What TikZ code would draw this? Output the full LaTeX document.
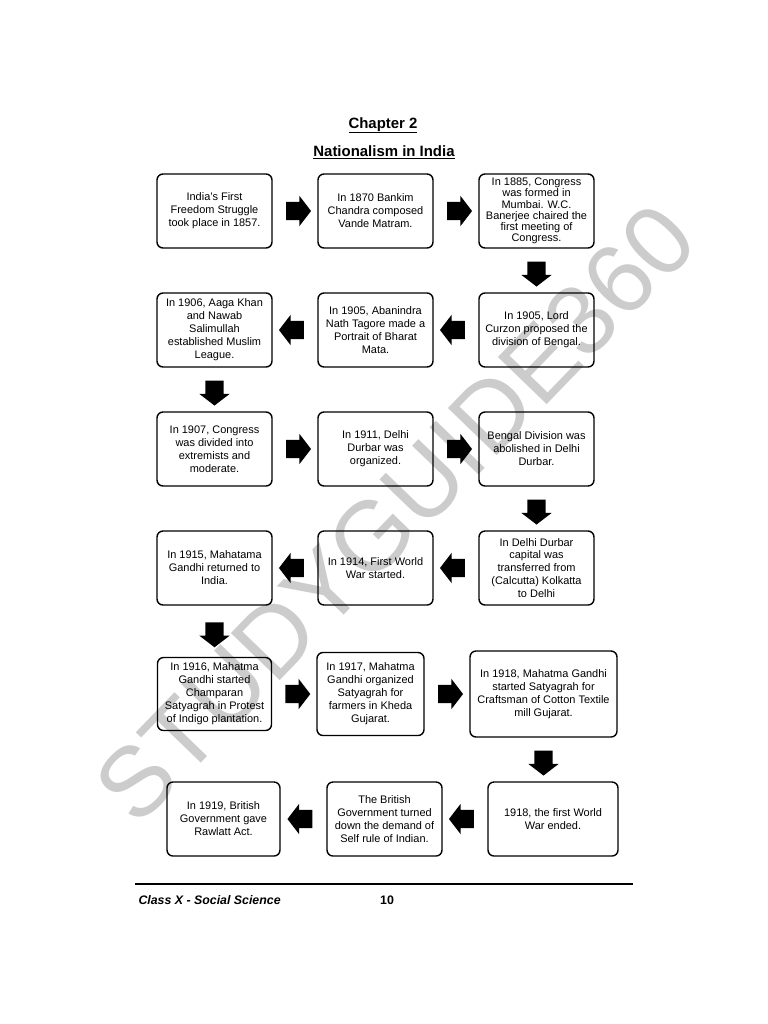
\documentclass[tikz,border=0pt]{standalone}
\usepackage{fontspec}
\setmainfont{Liberation Sans}
\usetikzlibrary{positioning,calc,shapes.arrows}

\begin{document}
\begin{tikzpicture}[x=1bp,y=-1bp,node distance=119bp and 161bp,on grid,
   event/.style={draw,rounded corners=6bp,line width=1.4bp,minimum width=115bp,
      minimum height=74bp,inner sep=2bp,align=center,font=\fontsize{11}{13}\selectfont},
   blockarrow/.style={single arrow,fill=black,draw=none,inner sep=0pt,minimum height=25bp,
      single arrow head extend=6bp,single arrow tip angle=105},
   arrowright/.style={blockarrow},
   arrowleft/.style={blockarrow,rotate=180},
   arrowdown/.style={blockarrow,rotate=-90}]
   \useasboundingbox[fill=white] (0,0) rectangle (768,1024);
   \node[text=black!20,font=\fontsize{99}{99}\selectfont,rotate=46] (mark) at (395,513) {STUDYGUIDE360};

   \node[anchor=base,font=\bfseries\fontsize{15}{18}\selectfont] (chap) at (383,128) {\underline{Chapter 2}};
   \node[anchor=base,font=\bfseries\fontsize{15}{18}\selectfont] (title) at (384,156.5) {\underline{Nationalism in India}};

   \node[event] (e1) at (214.5,211) {India’s First\\Freedom Struggle\\took place in 1857.};
   \node[event] (e2) [right=of e1] {In 1870 Bankim\\Chandra composed\\Vande Matram.};
   \node[event,font=\fontsize{11}{11.3}\selectfont] (e3) [right=of e2] {In 1885, Congress\\was formed in\\Mumbai. W.C.\\Banerjee chaired the\\first meeting of\\Congress.};
   \node[event] (e4) [below=of e3] {In 1905, Lord\\Curzon proposed the\\division of Bengal.};
   \node[event] (e5) [left=of e4] {In 1905, Abanindra\\Nath Tagore made a\\Portrait of Bharat\\Mata.};
   \node[event] (e6) [left=of e5] {In 1906, Aaga Khan\\and Nawab\\Salimullah\\established Muslim\\League.};
   \node[event] (e7) [below=of e6] {In 1907, Congress\\was divided into\\extremists and\\moderate.};
   \node[event] (e8) [right=of e7] {In 1911, Delhi\\Durbar was\\organized.};
   \node[event] (e9) [right=of e8] {Bengal Division was\\abolished in Delhi\\Durbar.};
   \node[event] (e10) [below=of e9] {In Delhi Durbar\\capital was\\transferred from\\(Calcutta) Kolkatta\\to Delhi};
   \node[event] (e11) [left=of e10] {In 1914, First World\\War started.};
   \node[event] (e12) [left=of e11] {In 1915, Mahatama\\Gandhi returned to\\India.};
   \node[event,minimum width=114bp,minimum height=73bp] (e13) [below=126bp of e12] {In 1916, Mahatma\\Gandhi started\\Champaran\\Satyagrah in Protest\\of Indigo plantation.};
   \node[event,minimum width=107bp,minimum height=83bp] (e14) [right=156bp of e13] {In 1917, Mahatma\\Gandhi organized\\Satyagrah for\\farmers in Kheda\\Gujarat.};
   \node[event,minimum width=147bp,minimum height=86bp] (e15) [right=173bp of e14] {In 1918, Mahatma Gandhi\\started Satyagrah for\\Craftsman of Cotton Textile\\mill Gujarat.};
   \node[event,minimum width=130bp] (e16) [below=125bp of e15,xshift=9.5bp] {1918, the first World\\War ended.};
   \node[event] (e17) [left=168.5bp of e16] {The British\\Government turned\\down the demand of\\Self rule of Indian.};
   \node[event,minimum width=113bp] (e18) [left=161bp of e17] {In 1919, British\\Government gave\\Rawlatt Act.};

   \node[arrowright] (a1) at ($(e1.east)!0.5!(e2.west)$) {\rule{0pt}{18bp}};
   \node[arrowright] (a2) at ($(e2.east)!0.5!(e3.west)$) {\rule{0pt}{18bp}};
   \node[arrowdown] (a3) at ($(e3.south)!0.5!(e3.south |- e4.north)$) {\rule{0pt}{18bp}};
   \node[arrowleft] (a4) at ($(e4.west)!0.5!(e5.east)$) {\rule{0pt}{18bp}};
   \node[arrowleft] (a5) at ($(e5.west)!0.5!(e6.east)$) {\rule{0pt}{18bp}};
   \node[arrowdown] (a6) at ($(e6.south)!0.5!(e6.south |- e7.north)$) {\rule{0pt}{18bp}};
   \node[arrowright] (a7) at ($(e7.east)!0.5!(e8.west)$) {\rule{0pt}{18bp}};
   \node[arrowright] (a8) at ($(e8.east)!0.5!(e9.west)$) {\rule{0pt}{18bp}};
   \node[arrowdown] (a9) at ($(e9.south)!0.5!(e9.south |- e10.north)$) {\rule{0pt}{18bp}};
   \node[arrowleft] (a10) at ($(e10.west)!0.5!(e11.east)$) {\rule{0pt}{18bp}};
   \node[arrowleft] (a11) at ($(e11.west)!0.5!(e12.east)$) {\rule{0pt}{18bp}};
   \node[arrowdown] (a12) at ($(e12.south)!0.5!(e12.south |- e13.north)$) {\rule{0pt}{18bp}};
   \node[arrowright] (a13) at ($(e13.east)!0.5!(e14.west)$) {\rule{0pt}{18bp}};
   \node[arrowright] (a14) at ($(e14.east)!0.5!(e15.west)$) {\rule{0pt}{18bp}};
   \node[arrowdown] (a15) at ($(e15.south)!0.5!(e15.south |- e16.north)$) {\rule{0pt}{18bp}};
   \node[arrowleft] (a16) at ($(e16.west)!0.5!(e17.east)$) {\rule{0pt}{18bp}};
   \node[arrowleft] (a17) at ($(e17.west)!0.5!(e18.east)$) {\rule{0pt}{18bp}};

   \draw[line width=2bp] (135,884) -- (633,884);
   \node[anchor=base west,font=\bfseries\itshape\fontsize{12.4}{14}\selectfont] (cls) at (135,904) {Class X - Social Science};
   \node[anchor=base,font=\bfseries\fontsize{12.4}{14}\selectfont] (page) at (387,904) {10};
\end{tikzpicture}
\end{document}
